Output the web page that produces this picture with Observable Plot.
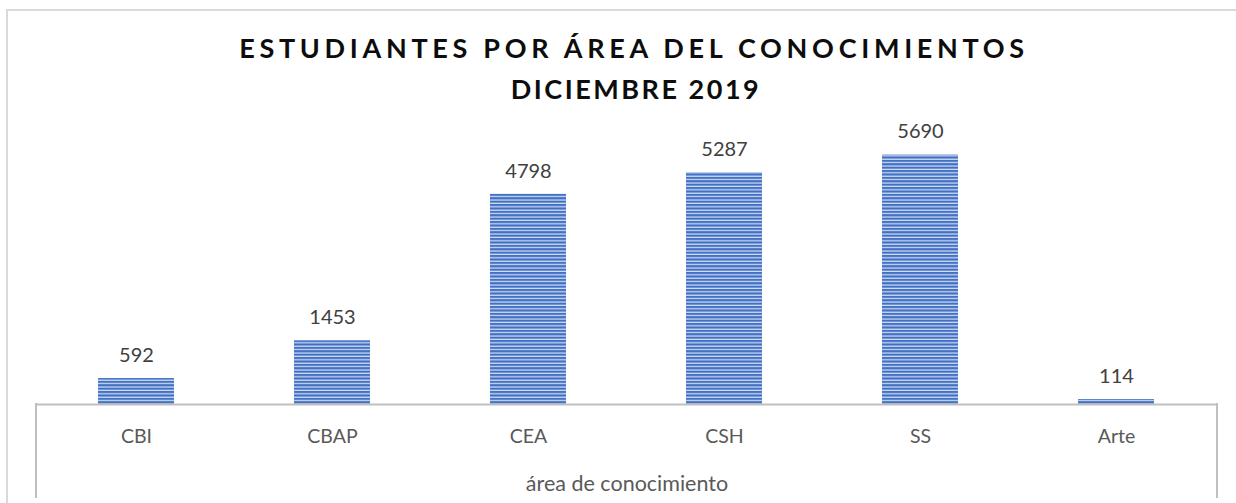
<!DOCTYPE html>
<html>
<head>
<meta charset="utf-8">
<script src="https://cdn.jsdelivr.net/npm/d3@7"></script>
<script src="https://cdn.jsdelivr.net/npm/@observablehq/plot@0.6"></script>
<style>
  html, body { margin: 0; padding: 0; background: #fff; overflow: hidden; }
  #wrap { position: relative; width: 1236px; height: 503px; }
  #border { position: absolute; left: 6px; top: 9px; width: 1400px; height: 700px;
            border: 2px solid #d9d9d9; box-sizing: border-box; pointer-events: none; }
  #chart svg { display: block; }
</style>
</head>
<body>
<div id="wrap"><div id="chart"></div><div id="border"></div></div>
<script>
const categories = ["CBI", "CBAP", "CEA", "CSH", "SS", "Arte"];
const values = [592, 1453, 4798, 5287, 5690, 114];
const titleLine1 = "ESTUDIANTES POR ÁREA DEL CONOCIMIENTOS";
const titleLine2 = "DICIEMBRE 2019";
const axisTitle = "área de conocimiento";

const data = categories.map((c, i) => ({cat: c, value: values[i]}));

const plot = Plot.plot({
  width: 1236,
  height: 503,
  marginLeft: 36,
  marginRight: 19,
  marginTop: 141,
  marginBottom: 99,
  style: {fontFamily: "Lato, 'Open Sans', sans-serif", fontSize: "19.5px", color: "#595959", background: "transparent", overflow: "visible"},
  x: {domain: categories, paddingInner: 0.61, paddingOuter: 0.305, label: null, tickSize: 0, tickPadding: 25},
  y: {domain: [0, 6000], axis: null},
  marks: [
    Plot.barY(data, {x: "cat", y: "value", fill: "url(#stripes)"}),
    Plot.text(data, {x: "cat", y: "value", text: d => String(d.value), dy: -23, fontSize: 20, fill: "#404040"}),
    Plot.ruleY([0], {stroke: "#bfbfbf", strokeWidth: 2}),
    Plot.text([axisTitle], {frameAnchor: "bottom", lineAnchor: "middle", dy: 80, fontSize: 21.5, fill: "#595959"}),
    Plot.text([titleLine1], {frameAnchor: "top", lineAnchor: "middle", dy: -92, dx: 7, fontSize: 27, fontWeight: "bold", fill: "#0d0d0d"}),
    Plot.text([titleLine2], {frameAnchor: "top", lineAnchor: "middle", dy: -51, dx: 9, fontSize: 27, fontWeight: "bold", fill: "#0d0d0d"})
  ]
});

document.getElementById("chart").appendChild(plot);
const svg = d3.select(plot);

// stripe pattern for bars
const defs = svg.insert("defs", ":first-child");
const pat = defs.append("pattern").attr("id", "stripes").attr("patternUnits", "userSpaceOnUse")
  .attr("width", 10).attr("height", 3.4);
pat.append("rect").attr("width", 10).attr("height", 3.4).attr("fill", "#4170c4");
pat.append("rect").attr("y", 2.2).attr("width", 10).attr("height", 1.2).attr("fill", "#d6e1f4");

// vertical boundary lines of the category axis, from the x scale range
const xs = plot.scale("x");
const [x0, x1] = xs.range;
const yBase = plot.scale("y").apply(0);
[x0, x1].forEach(x => {
  svg.append("line").attr("x1", x).attr("x2", x).attr("y1", yBase - 1).attr("y2", yBase + 94)
    .attr("stroke", "#bfbfbf").attr("stroke-width", 2);
});

// letter-spaced title lines, fitted to the reference widths
const targets = {[titleLine1]: 785, [titleLine2]: 248};
svg.selectAll("text").each(function() {
  const t = this.textContent;
  if (targets[t]) {
    const n = t.length;
    const w = this.getComputedTextLength();
    const ls = (targets[t] - w) / (n - 1);
    d3.select(this).attr("letter-spacing", ls);
  }
});
</script>
</body>
</html>
